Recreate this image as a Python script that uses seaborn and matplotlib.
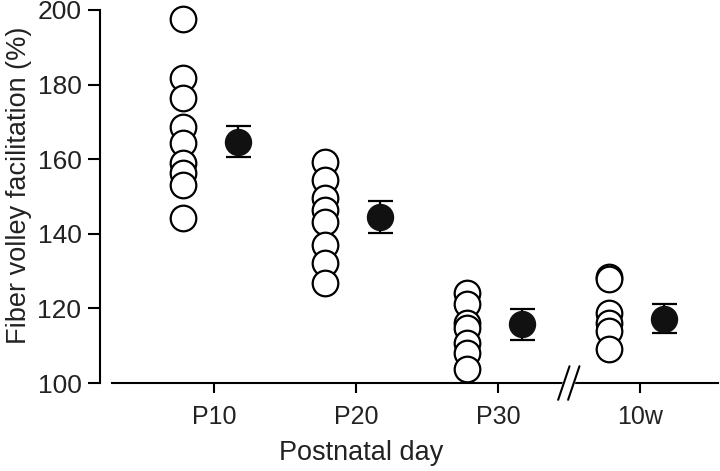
import numpy as np
import pandas as pd
import matplotlib
matplotlib.use("Agg")
import matplotlib.pyplot as plt
import seaborn as sns

# groups on the x axis
groups = ["P10", "P20", "P30", "10w"]

# individual slices (open circles)
p10_vals = [197.6, 181.9, 176.5, 168.5, 164.4, 159.0, 156.3, 153.1, 144.2]
p20_vals = [159.3, 154.4, 149.6, 146.4, 143.1, 136.9, 132.1, 126.7]
p30_vals = [124.0, 121.3, 116.2, 114.8, 110.8, 108.1, 103.8]
w10_vals = [128.3, 127.8, 118.9, 116.2, 114.0, 109.2]

# group mean +/- SEM (filled circles)
mean_vals = [164.7, 144.5, 115.7, 117.2]
sem_vals = [4.15, 4.2, 4.15, 3.9]

yticks = [100, 120, 140, 160, 180, 200]

sns.set_theme(style="ticks")
plt.rcParams["font.family"] = ["Liberation Sans", "DejaVu Sans"]

rows = []
for i, vals in enumerate([p10_vals, p20_vals, p30_vals, w10_vals]):
    for v in vals:
        rows.append({"pos": i - 0.215, "val": v})
indiv = pd.DataFrame(rows)
summ = pd.DataFrame({"pos": np.arange(len(groups)) + 0.17, "val": mean_vals, "sem": sem_vals})

fig = plt.figure(figsize=(7.2, 4.71), dpi=100)
ax = fig.add_axes([0.1556, 0.1868, 0.8414, 0.792])

sns.scatterplot(data=indiv, x="pos", y="val", ax=ax, s=340, facecolor="white",
                edgecolor="black", linewidth=1.6, zorder=3, legend=False, clip_on=False)
ax.errorbar(summ["pos"], summ["val"], yerr=summ["sem"], fmt="none", ecolor="black",
            elinewidth=1.6, capsize=9, capthick=1.6, zorder=2)
sns.scatterplot(data=summ, x="pos", y="val", ax=ax, s=350, color="#111111",
                edgecolor="#111111", linewidth=1, zorder=4, legend=False)

ax.set_xlim(-0.718, 3.55)
ax.set_ylim(100, 200)
ax.set_xticks(range(len(groups)))
ax.set_xticklabels(groups)
ax.set_yticks(yticks)

sns.despine(ax=ax)
ax.spines["left"].set_position(("outward", 9))
for side in ["left", "bottom"]:
    ax.spines[side].set_linewidth(1.5)
    ax.spines[side].set_color("black")
ax.tick_params(axis="both", colors="black", width=1.5, labelcolor="#222222")
ax.tick_params(axis="y", length=9, pad=4, labelsize=19)
ax.tick_params(axis="x", length=7.5, pad=8, labelsize=18)

ax.set_xlabel("Postnatal day", fontsize=19.5, color="#222222")
ax.set_ylabel("Fiber volley facilitation (%)", fontsize=19.5, color="#222222")
ax.xaxis.set_label_coords(0.411, -0.153)
ax.yaxis.set_label_coords(-0.132, 0.531)

# axis break between P30 and 10w
brk = 2.5
tr = ax.get_xaxis_transform()
ax.fill([brk - 0.075, brk + 0.005, brk + 0.075, brk - 0.005],
        [-0.045, -0.045, 0.045, 0.045], transform=tr, color="white", clip_on=False, zorder=4)
for dx in (-0.035, 0.035):
    ax.plot([brk + dx - 0.04, brk + dx + 0.04], [-0.045, 0.045], transform=tr,
            color="black", lw=1.5, clip_on=False, zorder=5)

fig.savefig("out.png", dpi=100)
